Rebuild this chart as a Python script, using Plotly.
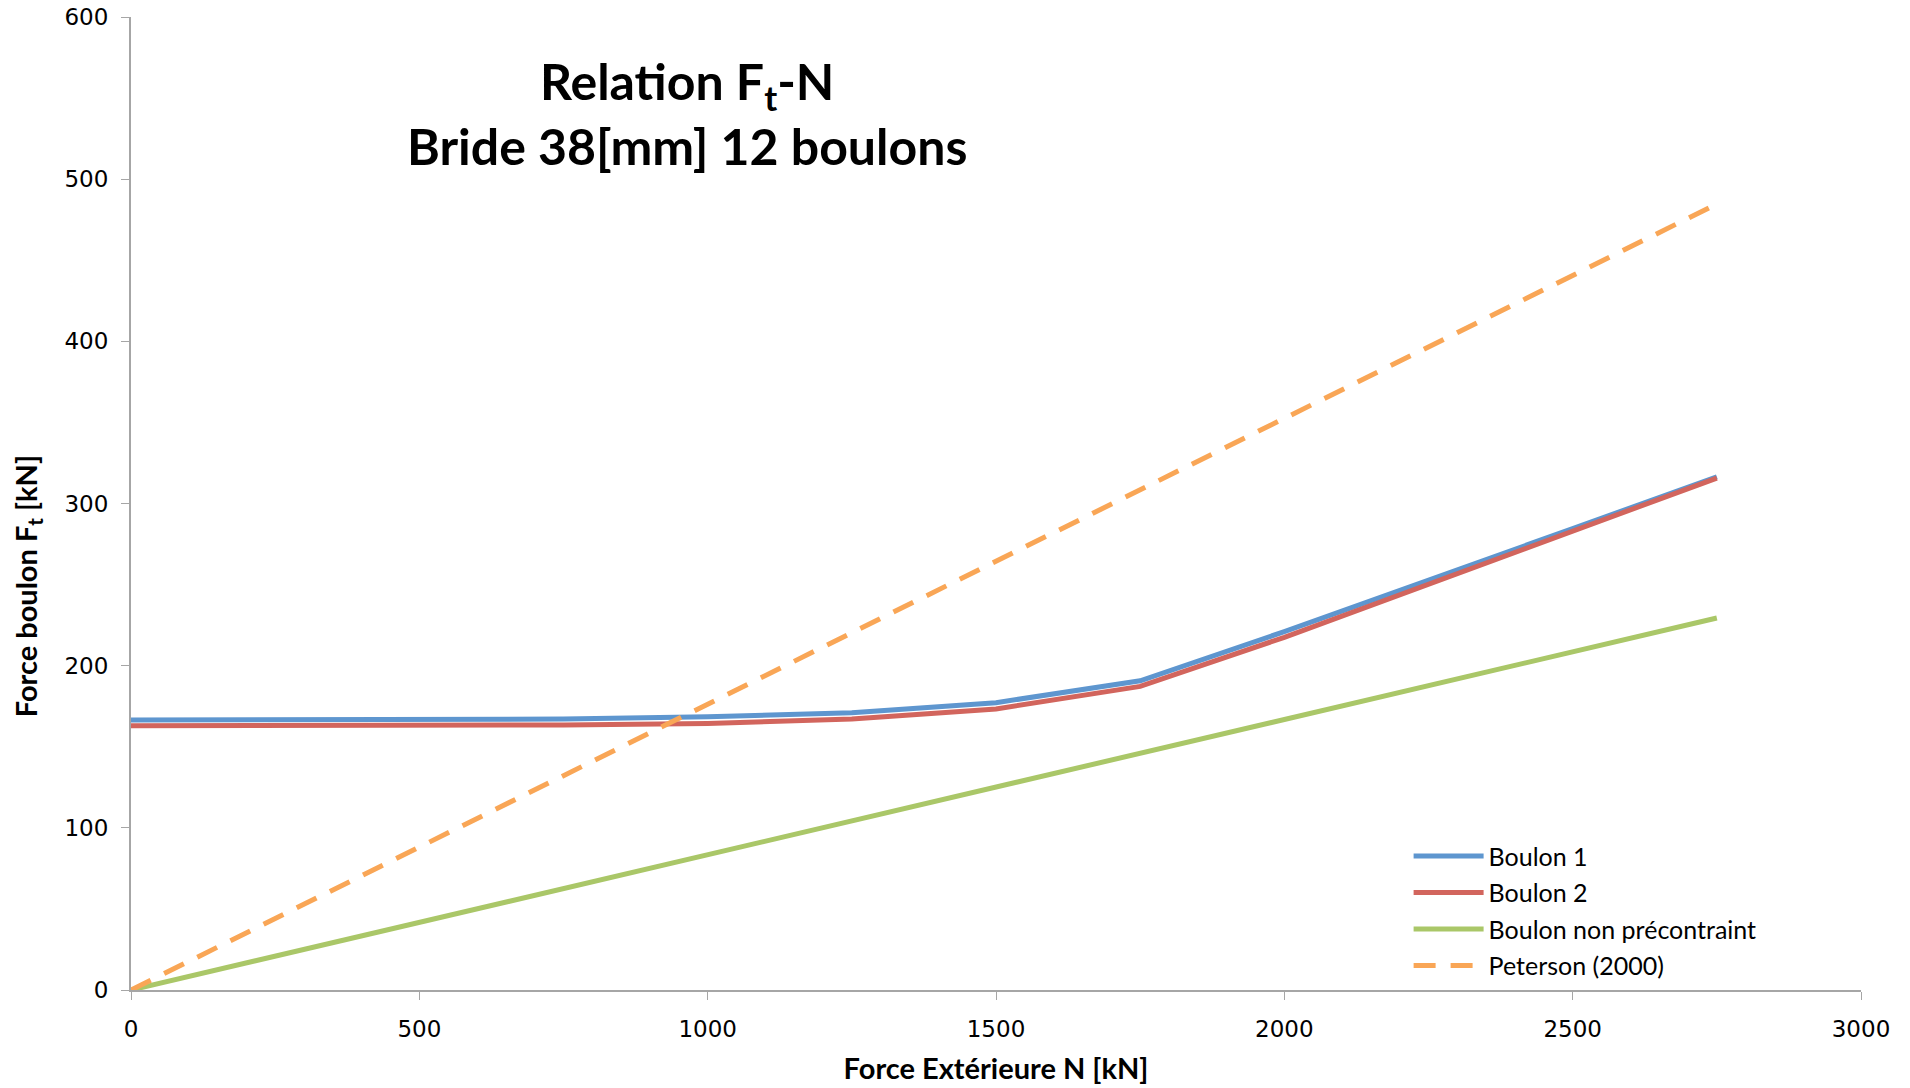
import plotly.graph_objects as go

# External force N [kN]
force_n = [0, 500, 750, 1000, 1250, 1500, 1750, 2000, 2250, 2500, 2750]

# Bolt forces Ft [kN]
boulon_1 = [166.5, 166.5, 167.1, 168.5, 171.0, 177.2, 190.7, 221.0, 252.5, 284.5, 316.5]
boulon_2 = [163.0, 163.0, 163.4, 164.4, 167.1, 173.3, 187.2, 217.5, 250.0, 283.0, 315.7]
boulon_non_precontraint = [0, 41.7, 62.6, 83.4, 104.3, 125.1, 146.0, 166.8, 187.7, 208.5, 229.4]
peterson_2000 = [0, 88.1, 132.2, 176.3, 220.3, 264.4, 308.5, 352.5, 396.6, 440.6, 484.7]

x_ticks = [0, 500, 1000, 1500, 2000, 2500, 3000]
y_ticks = [0, 100, 200, 300, 400, 500, 600]

series = [
    ("Boulon 1", boulon_1, "#5E96CF", "solid"),
    ("Boulon 2", boulon_2, "#D2655D", "solid"),
    ("Boulon non précontraint", boulon_non_precontraint, "#AAC768", "solid"),
    ("Peterson (2000)", peterson_2000, "#F9A656", "22px,15px"),
]

fig = go.Figure()
for name, values, color, dash in series:
    fig.add_trace(go.Scatter(
        x=force_n, y=values, name=name, mode="lines", legendgroup=name,
        line=dict(color=color, width=5, dash=dash),
    ))

tick_font = dict(family="DejaVu Sans", size=23, color="#000000")
title_font = dict(family="Lato", size=29, color="#000000")

fig.update_layout(
    width=1910, height=1088,
    margin=dict(l=131, r=49, t=17, b=98),
    paper_bgcolor="white", plot_bgcolor="white",
    showlegend=True,
    legend=dict(
        x=0.7385, y=0.161, xanchor="left", yanchor="top",
        font=dict(family="Lato", size=25, color="#000000"),
        bgcolor="rgba(0,0,0,0)", itemwidth=70, tracegroupgap=1,
    ),
    xaxis=dict(
        range=[0, 3000], tickvals=x_ticks, ticktext=[str(v) for v in x_ticks],
        showgrid=False, zeroline=False, automargin=False,
        showline=True, linecolor="#A6A6A6", linewidth=2,
        ticks="outside", ticklen=8, tickcolor="#A6A6A6", tickwidth=1,
        tickfont=tick_font, ticklabelstandoff=9, ticklabeloverflow="allow",
        title=dict(text="<b>Force Extérieure N [kN]</b>", font=title_font, standoff=18),
    ),
    yaxis=dict(
        range=[0, 600], tickvals=y_ticks, ticktext=[str(v) for v in y_ticks],
        showgrid=False, zeroline=False, automargin=False,
        showline=True, linecolor="#A6A6A6", linewidth=2,
        ticks="outside", ticklen=8, tickcolor="#A6A6A6", tickwidth=1,
        tickfont=tick_font, ticklabelstandoff=8, ticklabeloverflow="allow",
    ),
)

# Y axis title, sitting a little below the middle of the axis
fig.add_annotation(
    text="<b>Force boulon F<sub>t</sub> [kN]</b>",
    xref="paper", yref="paper", x=-0.0601, y=0.415,
    xanchor="center", yanchor="middle", textangle=-90, showarrow=False,
    font=title_font,
)

fig.add_annotation(
    text="<b>Relation F<sub>t</sub>-N</b><br><b>Bride 38[mm] 12 boulons</b>",
    xref="paper", yref="paper", x=0.3214, y=0.901,
    xanchor="center", yanchor="middle", showarrow=False,
    font=dict(family="Lato", size=50, color="#000000"),
)

fig.write_html("out.html")
